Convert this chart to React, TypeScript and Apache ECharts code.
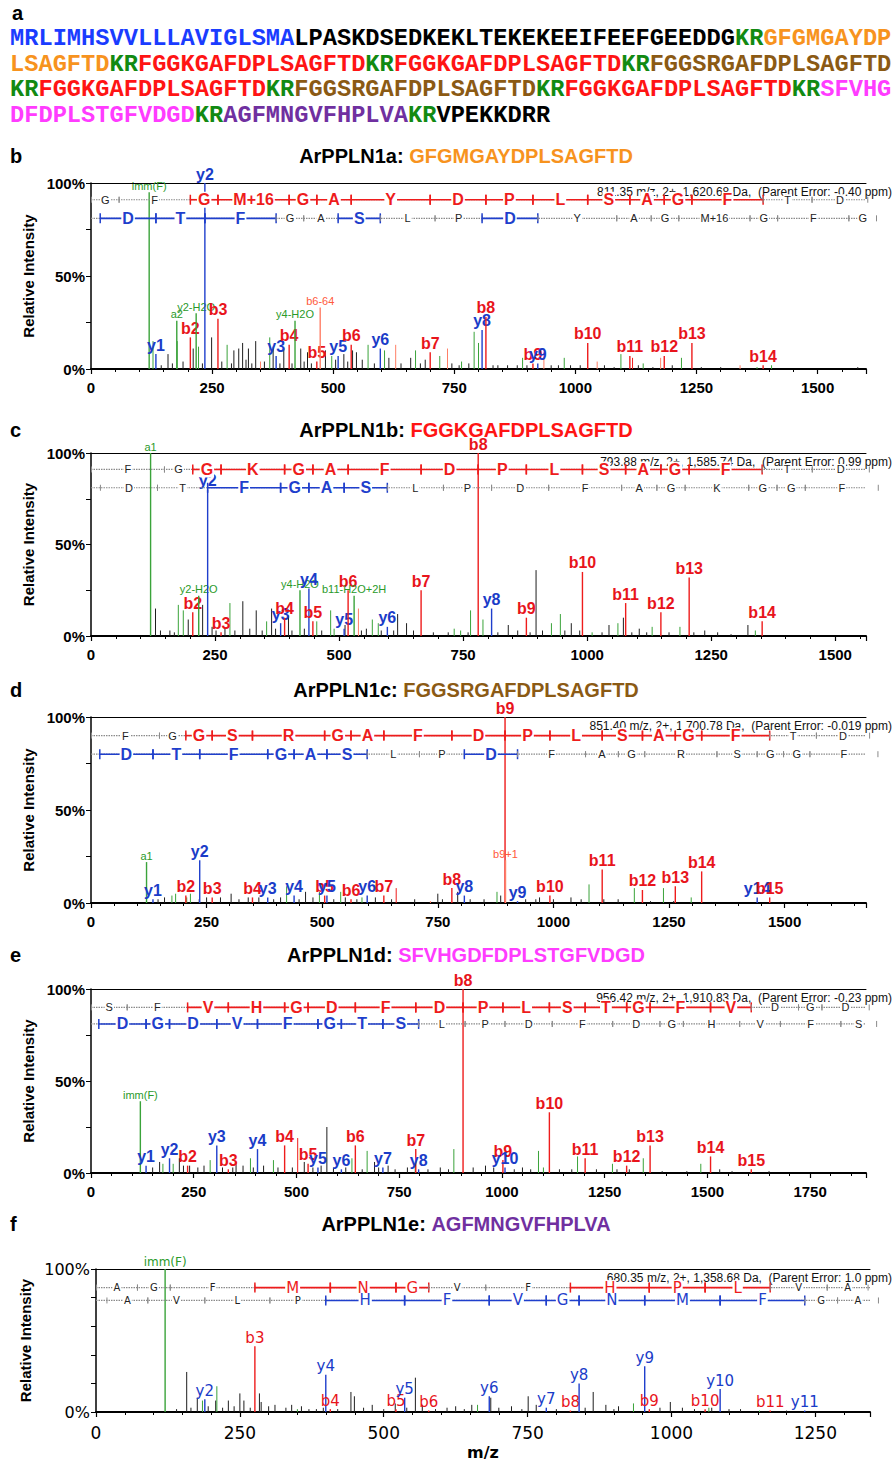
import React, { useEffect, useRef } from 'react';
import * as echarts from 'echarts';

// ---------------- DATA ----------------
const SEQ_LINES: [string, string][][] = [
  [['MRLIMHSVVLLLAVIGLSMA', 'bl'], ['LPASKDSEDKEKLTEKEKEEIFEEFGEEDDG', 'k'], ['KR', 'g'], ['GFGMGAYDP', 'o']],
  [['LSAGFTD', 'o'], ['KR', 'g'], ['FGGKGAFDPLSAGFTD', 'r'], ['KR', 'g'], ['FGGKGAFDPLSAGFTD', 'r'], ['KR', 'g'], ['FGGSRGAFDPLSAGFTD', 'br']],
  [['KR', 'g'], ['FGGKGAFDPLSAGFTD', 'r'], ['KR', 'g'], ['FGGSRGAFDPLSAGFTD', 'br'], ['KR', 'g'], ['FGGKGAFDPLSAGFTD', 'r'], ['KR', 'g'], ['SFVHG', 'm']],
  [['DFDPLSTGFVDGD', 'm'], ['KR', 'g'], ['AGFMNGVFHPLVA', 'p'], ['KR', 'g'], ['VPEKKDRR', 'k']],
];

const PANEL_LETTERS = ['b', 'c', 'd', 'e', 'f'];
const TITLE_NAMES = ['ArPPLN1a: ', 'ArPPLN1b: ', 'ArPPLN1c: ', 'ArPPLN1d: ', 'ArPPLN1e: '];
const TITLE_SEQS = ['GFGMGAYDPLSAGFTD', 'FGGKGAFDPLSAGFTD', 'FGGSRGAFDPLSAGFTD', 'SFVHGDFDPLSTGFVDGD', 'AGFMNGVFHPLVA'];
const TITLE_COLORS = ['o', 'r', 'br', 'm', 'p'];
const PRECURSOR_INFO = [
  '811.35 m/z, 2+, 1,620.68 Da,  (Parent Error: -0.40 ppm)',
  '793.88 m/z, 2+, 1,585.74 Da,  (Parent Error: 0.99 ppm)',
  '851.40 m/z, 2+, 1,700.78 Da,  (Parent Error: -0.019 ppm)',
  '956.42 m/z, 2+, 1,910.83 Da,  (Parent Error: -0.23 ppm)',
  '680.35 m/z, 2+, 1,358.68 Da,  (Parent Error: 1.0 ppm)',
];
const X_MAX = [1600, 1562, 1676, 1886, 1345];

const RESIDUE_MASS: Record<string, number> = {
  G: 57.021, A: 71.037, S: 87.032, P: 97.053, V: 99.068, T: 101.048, L: 113.084, I: 113.084,
  N: 114.043, D: 115.027, K: 128.095, E: 129.043, M: 131.040, H: 137.059, F: 147.068,
  R: 156.101, Y: 163.063, 'M+16': 147.035,
};

const TOKENS_B = ['G', 'F', 'G', 'M+16', 'G', 'A', 'Y', 'D', 'P', 'L', 'S', 'A', 'G', 'F', 'T', 'D'];
const TOKENS_C = ['F', 'G', 'G', 'K', 'G', 'A', 'F', 'D', 'P', 'L', 'S', 'A', 'G', 'F', 'T', 'D'];
const TOKENS_D = ['F', 'G', 'G', 'S', 'R', 'G', 'A', 'F', 'D', 'P', 'L', 'S', 'A', 'G', 'F', 'T', 'D'];
const TOKENS_E = ['S', 'F', 'V', 'H', 'G', 'D', 'F', 'D', 'P', 'L', 'S', 'T', 'G', 'F', 'V', 'D', 'G', 'D'];
const TOKENS_F = ['A', 'G', 'F', 'M', 'N', 'G', 'V', 'F', 'H', 'P', 'L', 'V', 'A'];

// indices of confirmed residues on the b ladder (row 1) and y ladder (row 2, reversed order)
const B_CONF = [
  [2, 3, 4, 5, 6, 7, 8, 9, 10, 11, 12, 13],
  [2, 3, 4, 5, 6, 7, 8, 9, 10, 11, 12, 13],
  [2, 3, 4, 5, 6, 7, 8, 9, 10, 11, 12, 13, 14],
  [2, 3, 4, 5, 6, 7, 8, 9, 10, 11, 12, 13, 14],
  [3, 4, 5, 8, 9, 10],
];
const Y_CONF = [
  [0, 1, 2, 5, 8],
  [2, 3, 4, 5],
  [0, 1, 2, 3, 4, 5, 8],
  [0, 1, 2, 3, 4, 5, 6, 7],
  [4, 5, 6, 7, 8, 9, 10],
];

// [m/z, relative intensity %, colour, label]
const PEAKS_B: [number, number, string, string][] = [
  [120.1, 95, 'g', 'imm(F)'], [134.0, 8, 'b', 'y1'], [177.1, 26, 'g', 'a2'], [205.1, 17, 'r', 'b2'],
  [217.1, 30, 'g', 'y2-H2O'], [235.1, 100, 'b', 'y2'], [262.1, 27, 'r', 'b3'], [382.2, 7, 'b', 'y3'],
  [409.1, 13, 'r', 'b4'], [421.2, 26, 'g', 'y4-H2O'], [466.2, 4, 'r', 'b5'], [473.2, 33, 's', 'b6-64'],
  [510.2, 7, 'b', 'y5'], [537.2, 13, 'r', 'b6'], [597.3, 11, 'b', 'y6'], [700.3, 9, 'r', 'b7'],
  [807.4, 21, 'b', 'y8'], [815.3, 28, 'r', 'b8'], [912.4, 3, 'r', 'b9'], [922.4, 3, 'b', 'y9'],
  [1025.5, 14, 'r', 'b10'], [1112.5, 7, 'r', 'b11'], [1183.5, 7, 'r', 'b12'], [1240.6, 14, 'r', 'b13'],
  [1387.6, 2, 'r', 'b14'],
];
const NOISE_B: [number, number, string][] = [
  [128, 15, 'g'], [145, 2, 'k'], [159, 8, 'k'], [168, 3, 'k'], [178, 15, 'g'], [190, 4, 'k'], [211, 11, 'k'],
  [222, 12, 'g'], [230, 3, 'k'], [249, 17, 'k'], [270, 4, 'k'], [281, 13, 'g'], [290, 3, 'k'], [295, 10, 'k'],
  [305, 11, 'k'], [313, 14, 'k'], [320, 5, 'k'], [325, 11, 'k'], [332, 3, 'k'], [340, 15, 'k'], [350, 4, 's'],
  [358, 4, 'k'], [369, 17, 'g'], [376, 12, 'k'], [390, 3, 'k'], [398, 11, 'k'], [415, 3, 'k'], [433, 11, 'k'],
  [440, 4, 'k'], [447, 9, 'k'], [455, 3, 'k'], [484, 10, 'k'], [497, 7, 'g'], [505, 5, 'k'], [522, 8, 'k'],
  [530, 4, 'k'], [540, 10, 'k'], [548, 9, 'k'], [560, 5, 'k'], [572, 13, 'g'], [585, 3, 'k'], [606, 10, 'g'],
  [615, 6, 'k'], [629, 13, 's'], [640, 3, 'k'], [660, 6, 'k'], [670, 10, 'g'], [680, 3, 'k'], [690, 5, 'k'],
  [720, 7, 'g'], [736, 11, 's'], [745, 3, 'k'], [760, 2, 'k'], [765, 4, 'g'], [780, 3, 'k'], [791, 20, 'g'],
  [800, 14, 'g'], [830, 2, 'k'], [840, 2, 'k'], [860, 2, 'k'], [880, 2, 'k'], [891, 6, 'g'], [900, 2, 'k'],
  [935, 9, 's'], [950, 2, 'k'], [965, 2, 'k'], [977, 6, 'g'], [990, 2, 'k'], [1010, 2, 'k'], [1045, 4, 's'],
  [1060, 2, 'k'], [1080, 1, 'k'], [1094, 8, 'g'], [1118, 6, 'r'], [1130, 2, 'k'], [1140, 3, 'g'], [1160, 1, 'k'],
  [1176, 6, 's'], [1200, 2, 'k'], [1219, 6, 'g'], [1260, 1, 'k'], [1300, 1, 'k'], [1340, 2, 's'], [1375, 1, 'g'],
  [1405, 2, 'g'], [1583, 1, 'k'],
];

const PEAKS_C: [number, number, string, string][] = [
  [120.1, 100, 'g', 'a1'], [205.1, 13, 'r', 'b2'], [217.1, 22, 'g', 'y2-H2O'], [235.1, 80, 'b', 'y2'],
  [262.1, 2, 'r', 'b3'], [382.2, 7, 'b', 'y3'], [390.2, 10, 'r', 'b4'], [421.2, 25, 'g', 'y4-H2O'],
  [439.2, 26, 'b', 'y4'], [447.2, 8, 'r', 'b5'], [510.2, 4, 'b', 'y5'], [518.2, 25, 'r', 'b6'],
  [530.3, 22, 'g', 'b11-H2O+2H'], [597.3, 5, 'b', 'y6'], [665.3, 25, 'r', 'b7'], [780.4, 100, 'r', 'b8'],
  [807.4, 15, 'b', 'y8'], [877.5, 10, 'r', 'b9'], [990.5, 35, 'r', 'b10'], [1077.6, 18, 'r', 'b11'],
  [1148.6, 13, 'r', 'b12'], [1205.6, 32, 'r', 'b13'], [1352.7, 8, 'r', 'b14'],
];
const NOISE_C: [number, number, string][] = [
  [130, 15, 'k'], [140, 3, 'k'], [159, 3, 'k'], [168, 2, 'k'], [176, 17, 'g'], [186, 14, 'g'], [196, 9, 'k'],
  [225, 17, 'k'], [244, 5, 'k'], [252, 3, 'k'], [270, 4, 'k'], [280, 18, 'g'], [290, 3, 'k'], [306, 19, 'k'],
  [320, 4, 'k'], [333, 14, 'k'], [345, 3, 'k'], [354, 8, 'g'], [364, 15, 'k'], [372, 4, 'k'], [398, 11, 'k'],
  [405, 3, 'k'], [430, 4, 'k'], [455, 8, 'g'], [465, 3, 'k'], [483, 14, 'g'], [490, 4, 'g'], [512, 6, 'k'],
  [539, 15, 's'], [545, 3, 'k'], [555, 4, 'k'], [567, 9, 'g'], [579, 7, 'g'], [585, 3, 'k'], [610, 3, 'k'],
  [618, 12, 'k'], [636, 7, 'k'], [650, 3, 'k'], [690, 2, 'k'], [720, 2, 'k'], [732, 4, 'g'], [745, 3, 'g'],
  [760, 2, 'k'], [765, 14, 'g'], [790, 9, 'g'], [820, 2, 'k'], [841, 6, 'k'], [860, 3, 'k'], [885, 2, 'k'],
  [897, 36, 'k'], [910, 3, 'k'], [928, 7, 'g'], [946, 12, 'g'], [955, 3, 'k'], [968, 7, 'k'], [985, 3, 'k'],
  [1010, 2, 'g'], [1030, 2, 'k'], [1044, 6, 'k'], [1062, 7, 'g'], [1073, 10, 'k'], [1090, 2, 'k'], [1105, 4, 'k'],
  [1120, 2, 'k'], [1131, 5, 'g'], [1165, 2, 'k'], [1187, 5, 'g'], [1215, 2, 'k'], [1237, 3, 'k'], [1263, 2, 'k'],
  [1290, 1, 'k'], [1324, 6, 'k'], [1339, 3, 'g'],
];

const PEAKS_D: [number, number, string, string][] = [
  [120.1, 22, 'g', 'a1'], [134.0, 2, 'b', 'y1'], [205.1, 4, 'r', 'b2'], [235.1, 23, 'b', 'y2'],
  [262.1, 3, 'r', 'b3'], [349.2, 3, 'r', 'b4'], [382.2, 3, 'b', 'y3'], [439.2, 4, 'b', 'y4'],
  [505.3, 4, 'r', 'b5'], [510.2, 4, 'b', 'y5'], [562.3, 2, 'r', 'b6'], [597.3, 4, 'b', 'y6'],
  [633.3, 4, 'r', 'b7'], [780.4, 8, 'r', 'b8'], [807.4, 4, 'b', 'y8'], [895.4, 100, 'r', 'b9'],
  [896.4, 23, 's', 'b9+1'], [922.4, 1, 'b', 'y9'], [992.4, 4, 'r', 'b10'], [1105.5, 18, 'r', 'b11'],
  [1192.5, 7, 'r', 'b12'], [1263.6, 9, 'r', 'b13'], [1320.6, 17, 'r', 'b14'], [1440.7, 3, 'b', 'y14'],
  [1467.7, 3, 'r', 'b15'],
];
const NOISE_D: [number, number, string][] = [
  [145, 2, 'k'], [159, 3, 'k'], [175, 4, 'g'], [183, 5, 'g'], [207, 3, 'g'], [215, 5, 'g'], [234, 2, 'k'],
  [250, 3, 'k'], [280, 3, 'k'], [303, 5, 'k'], [320, 2, 'k'], [340, 3, 'k'], [363, 3, 'k'], [395, 2, 'k'],
  [410, 3, 'k'], [423, 9, 'g'], [450, 2, 'k'], [464, 6, 'k'], [480, 3, 'k'], [494, 6, 'g'], [525, 2, 'k'],
  [540, 6, 'g'], [550, 3, 'k'], [575, 2, 'k'], [586, 3, 'g'], [615, 3, 'k'], [650, 2, 'k'], [660, 8, 'r'],
  [700, 2, 'k'], [734, 1, 's'], [750, 5, 'k'], [760, 2, 'k'], [793, 6, 'k'], [820, 2, 'k'], [850, 2, 'k'],
  [878, 6, 'g'], [886, 4, 'k'], [940, 2, 'k'], [962, 2, 'k'], [970, 3, 'k'], [1000, 2, 'k'], [1038, 3, 'k'],
  [1060, 2, 'k'], [1077, 10, 'g'], [1109, 2, 'k'], [1140, 2, 'k'], [1175, 8, 'g'], [1210, 1, 'k'],
  [1238, 8, 'g'], [1260, 1, 'k'], [1298, 3, 'g'],
];

const PEAKS_E: [number, number, string, string][] = [
  [120.1, 39, 'g', 'imm(F)'], [134.0, 4, 'b', 'y1'], [191.1, 8, 'b', 'y2'], [235.1, 4, 'r', 'b2'],
  [306.1, 15, 'b', 'y3'], [334.2, 2, 'r', 'b3'], [405.2, 13, 'b', 'y4'], [471.2, 15, 'r', 'b4'],
  [528.3, 5, 'r', 'b5'], [552.3, 3, 'b', 'y5'], [609.3, 2, 'b', 'y6'], [643.3, 15, 'r', 'b6'],
  [710.3, 3, 'b', 'y7'], [790.3, 13, 'r', 'b7'], [797.3, 2, 'b', 'y8'], [905.4, 100, 'r', 'b8'],
  [1002.4, 7, 'r', 'b9'], [1007.5, 3, 'b', 'y10'], [1115.5, 33, 'r', 'b10'], [1202.5, 8, 'r', 'b11'],
  [1303.5, 4, 'r', 'b12'], [1360.6, 15, 'r', 'b13'], [1507.7, 9, 'r', 'b14'], [1606.8, 2, 'r', 'b15'],
];
const NOISE_E: [number, number, string][] = [
  [150, 3, 'k'], [167, 6, 'k'], [175, 5, 'g'], [200, 5, 'g'], [215, 8, 'k'], [225, 4, 'k'], [240, 4, 'k'],
  [260, 3, 'k'], [275, 4, 'k'], [290, 7, 'g'], [320, 3, 'k'], [345, 3, 'k'], [353, 6, 'k'], [370, 4, 'k'],
  [388, 8, 'g'], [395, 3, 'k'], [420, 4, 'k'], [444, 7, 'g'], [455, 3, 'k'], [490, 3, 'k'], [503, 19, 'r'],
  [519, 6, 'k'], [540, 3, 'k'], [560, 4, 'k'], [574, 25, 'k'], [590, 3, 'k'], [620, 3, 'k'], [635, 8, 'g'],
  [660, 2, 'k'], [672, 12, 'g'], [690, 6, 'k'], [700, 3, 'k'], [723, 4, 'k'], [740, 2, 'k'], [770, 3, 'k'],
  [789, 5, 'g'], [820, 2, 'k'], [850, 3, 'k'], [870, 2, 'k'], [883, 13, 'g'], [930, 3, 'k'], [960, 4, 'k'],
  [980, 3, 'k'], [1030, 2, 'k'], [1050, 3, 'k'], [1070, 2, 'k'], [1089, 12, 'g'], [1101, 3, 'g'],
  [1140, 2, 'k'], [1170, 2, 'k'], [1184, 9, 'g'], [1230, 2, 'k'], [1269, 5, 'g'], [1280, 2, 'k'],
  [1310, 2, 'k'], [1344, 8, 'g'], [1390, 1, 'k'], [1450, 1, 'k'], [1484, 5, 'g'], [1530, 2, 'k'],
  [1560, 1, 'k'], [1650, 1, 'k'],
];

const PEAKS_F: [number, number, string, string][] = [
  [120.1, 100, 'g', 'imm(F)'], [189.1, 9, 'b', 'y2'], [276.1, 46, 'r', 'b3'], [399.3, 26, 'b', 'y4'],
  [407.2, 2, 'r', 'b4'], [521.2, 2, 'r', 'b5'], [536.4, 10, 'b', 'y5'], [578.2, 1, 'r', 'b6'],
  [683.4, 11, 'b', 'y6'], [782.5, 3, 'b', 'y7'], [824.4, 1, 'r', 'b8'], [839.5, 20, 'b', 'y8'],
  [953.5, 32, 'b', 'y9'], [961.5, 2, 'r', 'b9'], [1058.5, 2, 'r', 'b10'], [1084.6, 16, 'b', 'y10'],
  [1171.6, 1, 'r', 'b11'], [1231.6, 1, 'b', 'y11'],
];
const NOISE_F: [number, number, string][] = [
  [140, 2, 'k'], [157.6, 28, 'k'], [165, 3, 'k'], [176, 10, 'k'], [185, 8, 'g'], [195, 4, 'k'], [208, 8, 'k'],
  [210, 18, 'g'], [220, 3, 'k'], [230, 8, 'k'], [240, 4, 'k'], [250, 13, 'k'], [257, 8, 'k'], [268, 3, 'k'],
  [284, 13, 'k'], [287, 7, 'k'], [300, 4, 'k'], [311, 5, 'k'], [330, 3, 'k'], [340, 5, 'k'], [350, 2, 'g'],
  [357, 4, 'k'], [370, 2, 'k'], [383, 2, 'k'], [395, 3, 'k'], [420, 2, 'k'], [443, 14, 'k'], [449, 11, 'k'],
  [465, 3, 'k'], [480, 5, 'k'], [500, 2, 'k'], [520, 6, 'k'], [540, 3, 'k'], [555, 24, 'k'], [567, 5, 'k'],
  [590, 2, 'k'], [610, 3, 'k'], [625, 4, 'k'], [640, 2, 'k'], [653, 5, 'k'], [663, 5, 'g'], [686, 10, 'k'],
  [700, 3, 'k'], [722, 4, 'k'], [740, 2, 'k'], [751, 11, 'k'], [765, 5, 'k'], [800, 2, 'k'], [850, 3, 'k'],
  [864, 14, 'k'], [886, 5, 'k'], [900, 2, 'k'], [908, 4, 'k'], [934, 6, 'g'], [980, 3, 'k'], [998, 7, 'k'],
  [1019, 3, 'k'], [1040, 2, 'k'], [1065, 3, 'g'], [1070, 3, 'k'], [1100, 2, 'k'], [1120, 2, 'k'],
  [1153, 1, 'g'], [1200, 1, 'k'],
];

// ---------------- STYLE ----------------
const SANS = '"Liberation Sans", Arial, sans-serif';
const LUCIDA = '"DejaVu Sans", sans-serif';
const SEQ_COLOR: Record<string, string> = {
  bl: '#1a3cff', k: '#000000', g: '#128a12', o: '#f7931e', r: '#ff1414', br: '#8b5a14', m: '#ff3cff', p: '#7030a0',
};
const PEAK_COLOR: Record<string, string> = {
  k: '#1e1e1e', g: '#3aa33a', r: '#ee1c1c', b: '#1f3fcc', s: '#ff7f66',
};
const LABEL_COLOR: Record<string, string> = {
  g: '#2a9a2a', r: '#e8141b', b: '#1a3cc8', s: '#ff5a3c', k: '#000',
};
const GRIDS = [
  { left: 91, right: 27, top: 183, height: 186 },
  { left: 91, right: 27, top: 453, height: 183 },
  { left: 91, right: 27, top: 717, height: 186 },
  { left: 91, right: 27, top: 989, height: 184 },
  { left: 96, right: 23, top: 1269, height: 143 },
];
const LADDER_LEVELS = [[91, 81], [91, 81], [90, 80], [90, 81], [87, 78]];
const TITLE_Y = [156, 430, 690, 955, 1224];

const ALL_TOKENS = [TOKENS_B, TOKENS_C, TOKENS_D, TOKENS_E, TOKENS_F];
const ALL_PEAKS = [PEAKS_B, PEAKS_C, PEAKS_D, PEAKS_E, PEAKS_F];
const ALL_NOISE = [NOISE_B, NOISE_C, NOISE_D, NOISE_E, NOISE_F];

function boundaries(tokens: string[], start: number) {
  const b = [start];
  tokens.forEach((t) => b.push(b[b.length - 1] + RESIDUE_MASS[t]));
  return b;
}

function noiseSeries(i: number) {
  const pts = ALL_NOISE[i];
  return {
    type: 'custom', xAxisIndex: 2 * i, yAxisIndex: i, clip: false, silent: true,
    data: pts.map((p) => [p[0], p[1]]),
    renderItem: (params: any, api: any) => {
      const p = pts[params.dataIndex];
      const top = api.coord([p[0], p[1]]);
      const base = api.coord([p[0], 0]);
      return {
        type: 'line',
        shape: { x1: top[0], y1: base[1], x2: top[0], y2: top[1] },
        style: { stroke: PEAK_COLOR[p[2]], lineWidth: 1 },
      };
    },
  };
}

function peakSeries(i: number) {
  const pts = ALL_PEAKS[i];
  const isF = i === 4;
  return {
    type: 'custom', xAxisIndex: 2 * i, yAxisIndex: i, clip: false, silent: true,
    data: pts.map((p) => [p[0], p[1]]),
    renderItem: (params: any, api: any) => {
      const p = pts[params.dataIndex];
      const top = api.coord([p[0], p[1]]);
      const base = api.coord([p[0], 0]);
      const small = p[2] === 'g' || p[2] === 's';
      const font = isF
        ? (small ? `12px ${LUCIDA}` : `15px ${LUCIDA}`)
        : (small ? `11px ${SANS}` : `bold 16px ${SANS}`);
      return {
        type: 'group',
        children: [
          {
            type: 'line',
            shape: { x1: top[0], y1: base[1], x2: top[0], y2: top[1] },
            style: { stroke: PEAK_COLOR[p[2]], lineWidth: 1.4 },
          },
          {
            type: 'text', x: top[0], y: top[1] - 1,
            style: { text: p[3], fill: LABEL_COLOR[p[2]], font, align: 'center', verticalAlign: 'bottom' },
          },
        ],
      };
    },
  };
}

function ladderBaseSeries(i: number) {
  const lv = LADDER_LEVELS[i];
  return {
    type: 'custom', xAxisIndex: 2 * i, yAxisIndex: i, clip: false, silent: true,
    data: [[0, X_MAX[i], lv[0]], [0, X_MAX[i], lv[1]]],
    renderItem: (params: any, api: any) => {
      const a = api.coord([api.value(0), api.value(2)]);
      const b = api.coord([api.value(1), api.value(2)]);
      return {
        type: 'line',
        shape: { x1: a[0], y1: a[1], x2: b[0], y2: b[1] },
        style: { stroke: '#8a8a8a', lineWidth: 1.2, lineDash: [1.5, 1] },
      };
    },
  };
}

function ladderSeries(i: number, row: number) {
  const tokens = row === 0 ? ALL_TOKENS[i] : [...ALL_TOKENS[i]].reverse();
  const start = row === 0 ? 1.007 : 19.018;
  const bd = boundaries(tokens, start);
  const conf = row === 0 ? B_CONF[i] : Y_CONF[i];
  const color = row === 0 ? '#ee1c1c' : '#1f3fcc';
  const level = LADDER_LEVELS[i][row];
  const isF = i === 4;
  return {
    type: 'custom', xAxisIndex: 2 * i, yAxisIndex: i, clip: false, silent: true,
    data: tokens.map((_, k) => [bd[k], bd[k + 1], level]),
    renderItem: (params: any, api: any) => {
      const k = params.dataIndex;
      const a = api.coord([bd[k], level]);
      const b = api.coord([bd[k + 1], level]);
      const y = a[1];
      const on = conf.indexOf(k) >= 0;
      const children: any[] = [];
      if (on) {
        children.push({ type: 'line', shape: { x1: a[0], y1: y, x2: b[0], y2: y }, style: { stroke: color, lineWidth: 1.6 } });
      }
      const th = on ? 5 : 3;
      const ts = { stroke: on ? color : '#8a8a8a', lineWidth: on ? 1.5 : 1 };
      children.push({ type: 'line', shape: { x1: a[0], y1: y - th, x2: a[0], y2: y + th }, style: ts });
      children.push({ type: 'line', shape: { x1: b[0], y1: y - th, x2: b[0], y2: y + th }, style: ts });
      const font = on
        ? (isF ? `15px ${LUCIDA}` : `bold 16px ${SANS}`)
        : (isF ? `10px ${LUCIDA}` : `11px ${SANS}`);
      children.push({
        type: 'text', x: (a[0] + b[0]) / 2, y,
        style: {
          text: tokens[k], fill: on ? color : '#222', font, align: 'center', verticalAlign: 'middle',
          backgroundColor: '#fff', padding: [0, 1],
        },
      });
      return { type: 'group', children };
    },
  };
}

function buildOption() {
  const grid = GRIDS.map((g) => ({ ...g }));
  const xAxis: any[] = [];
  const yAxis: any[] = [];
  GRIDS.forEach((_, i) => {
    const isF = i === 4;
    xAxis.push({
      type: 'value', gridIndex: i, min: 0, max: X_MAX[i], interval: 250, position: 'bottom',
      axisLine: { show: true, onZero: false, lineStyle: { color: '#000', width: 2 } },
      axisTick: { show: true, length: 5, lineStyle: { color: '#000', width: 1.2 } },
      minorTick: { show: true, splitNumber: 5, length: 3, lineStyle: { color: '#000', width: 1 } },
      axisLabel: {
        color: '#000', margin: isF ? 12 : 11,
        fontFamily: isF ? LUCIDA : SANS, fontWeight: isF ? 'normal' : 'bold', fontSize: isF ? 17 : 15,
        formatter: (v: number) => (v % 250 === 0 ? String(v) : ''),
        showMaxLabel: false,
      },
      splitLine: { show: false },
      name: isF ? 'm/z' : '', nameLocation: 'middle', nameGap: 32,
      nameTextStyle: { fontFamily: LUCIDA, fontWeight: 'bold', fontSize: 16, color: '#000' },
    });
    xAxis.push({
      type: 'value', gridIndex: i, min: 0, max: X_MAX[i], position: 'top',
      axisLine: { show: true, onZero: false, lineStyle: { color: '#000', width: 1 } },
      axisTick: { show: false }, axisLabel: { show: false }, splitLine: { show: false },
    });
    yAxis.push({
      type: 'value', gridIndex: i, min: 0, max: 100, interval: isF ? 20 : 25,
      axisLine: { show: true, lineStyle: { color: '#000', width: 1.5 } },
      axisTick: { show: true, length: 5, lineStyle: { color: '#000' } },
      axisLabel: {
        color: '#000', margin: 6, fontFamily: isF ? LUCIDA : SANS,
        fontWeight: isF ? 'normal' : 'bold', fontSize: isF ? 16 : 15,
        formatter: (v: number) => (v === 0 ? '0%' : v === 100 ? '100%' : v === 50 && !isF ? '50%' : ''),
      },
      splitLine: { show: false },
      name: 'Relative Intensity', nameLocation: 'middle', nameGap: isF ? 57 : 52, nameRotate: 90,
      nameTextStyle: { fontFamily: SANS, fontWeight: 'bold', fontSize: 15, color: '#000' },
    });
  });

  const series: any[] = [];
  GRIDS.forEach((_, i) => {
    series.push(noiseSeries(i));
    series.push(peakSeries(i));
    series.push(ladderBaseSeries(i));
    series.push(ladderSeries(i, 0));
    series.push(ladderSeries(i, 1));
  });

  const seqFont = { fontFamily: '"Liberation Mono", "Courier New", monospace', fontWeight: 'bold', fontSize: 23.7 };
  const seqRich: any = {};
  Object.keys(SEQ_COLOR).forEach((k) => { seqRich[k] = { ...seqFont, fill: SEQ_COLOR[k] }; });
  const titleRich: any = {};
  Object.keys(SEQ_COLOR).forEach((k) => {
    titleRich[k] = { fontFamily: SANS, fontWeight: 'bold', fontSize: 20, fill: SEQ_COLOR[k] };
  });

  const graphic: any[] = [];
  graphic.push({ type: 'text', x: 12, y: 13, style: { text: 'a', font: `bold 20px ${SANS}`, fill: '#000', verticalAlign: 'middle' } });
  const SEQ_Y = [38, 64, 89, 115];
  SEQ_LINES.forEach((line, li) => {
    graphic.push({
      type: 'text', x: 10, y: SEQ_Y[li],
      style: {
        text: line.map(([t, c]) => `{${c}|${t}}`).join(''), rich: seqRich,
        ...seqFont, verticalAlign: 'middle',
      },
    });
  });
  GRIDS.forEach((g, i) => {
    graphic.push({ type: 'text', x: 10, y: TITLE_Y[i], style: { text: PANEL_LETTERS[i], font: `bold 20px ${SANS}`, fill: '#000', verticalAlign: 'middle' } });
    graphic.push({
      type: 'text', x: 466, y: TITLE_Y[i],
      style: {
        text: `{k|${TITLE_NAMES[i]}}{${TITLE_COLORS[i]}|${TITLE_SEQS[i]}}`, rich: titleRich,
        fontFamily: SANS, fontWeight: 'bold', fontSize: 20, align: 'center', verticalAlign: 'middle',
      },
    });
    graphic.push({
      type: 'text', x: 892, y: g.top + 9,
      style: { text: PRECURSOR_INFO[i], font: `12px ${SANS}`, fill: '#111', align: 'right', verticalAlign: 'middle' },
    });
  });

  return {
    animation: false,
    backgroundColor: '#fff',
    grid, xAxis, yAxis, series, graphic,
  };
}

export default function App() {
  const ref = useRef<HTMLDivElement>(null);
  useEffect(() => {
    if (!ref.current) return;
    const chart = echarts.init(ref.current, undefined, { renderer: 'svg' });
    chart.setOption(buildOption() as any);
    return () => chart.dispose();
  }, []);
  return <div ref={ref} style={{ position: 'absolute', left: 0, top: 0, width: 893, height: 1463, background: '#fff' }} />;
}
